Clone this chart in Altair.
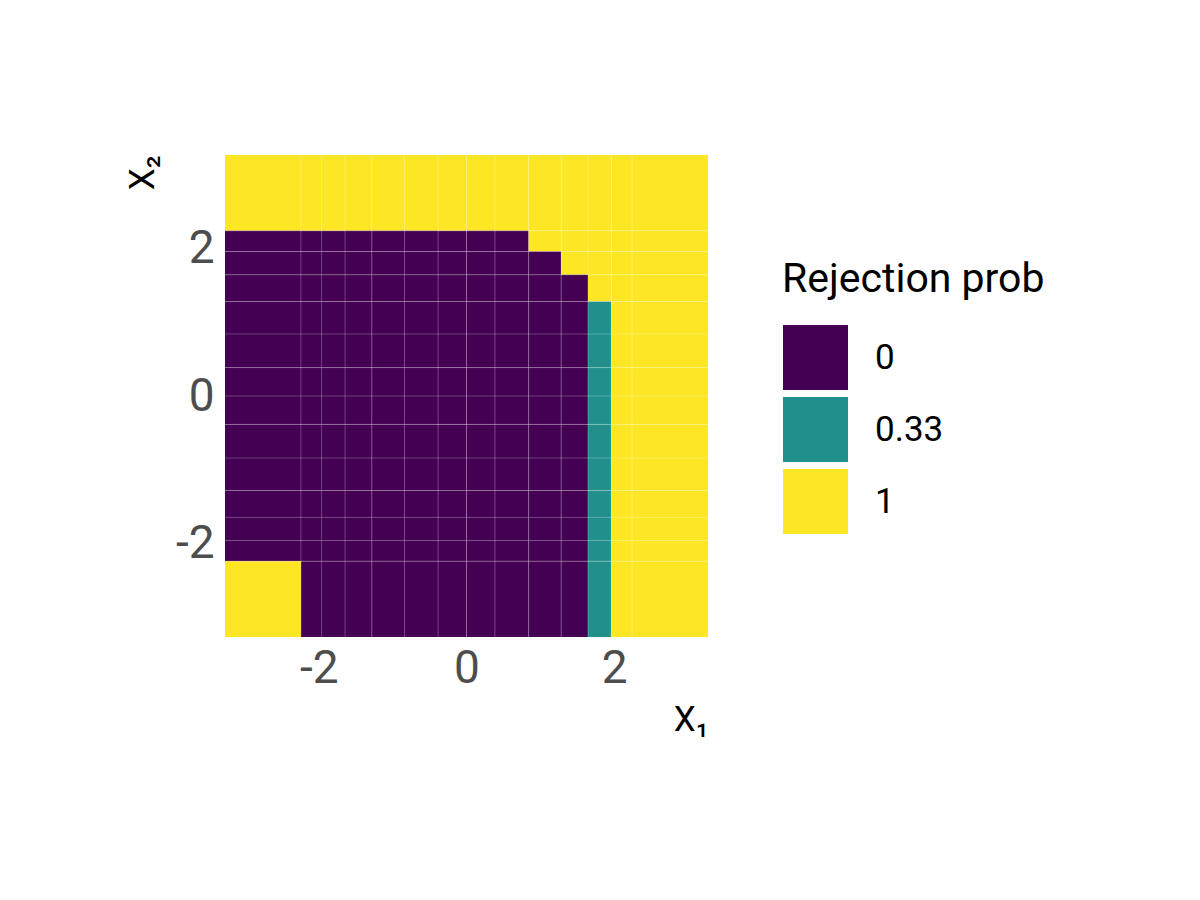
import altair as alt
import pandas as pd

# Cell boundaries (normal quantiles), outer edges at panel limits
edges = [-3.27, -2.2414, -1.96, -1.6449, -1.2816, -0.8416, -0.3853, 0.0,
         0.3853, 0.8416, 1.2816, 1.6449, 1.96, 2.2414, 3.27]

# Rejection probability per cell, rows from top (largest X2) to bottom
A, B, C = "0", "0.33", "1"
grid_top_to_bottom = [
    [C, C, C, C, C, C, C, C, C, C, C, C, C, C],
    [A, A, A, A, A, A, A, A, A, C, C, C, C, C],
    [A, A, A, A, A, A, A, A, A, A, C, C, C, C],
    [A, A, A, A, A, A, A, A, A, A, A, C, C, C],
    [A, A, A, A, A, A, A, A, A, A, A, B, C, C],
    [A, A, A, A, A, A, A, A, A, A, A, B, C, C],
    [A, A, A, A, A, A, A, A, A, A, A, B, C, C],
    [A, A, A, A, A, A, A, A, A, A, A, B, C, C],
    [A, A, A, A, A, A, A, A, A, A, A, B, C, C],
    [A, A, A, A, A, A, A, A, A, A, A, B, C, C],
    [A, A, A, A, A, A, A, A, A, A, A, B, C, C],
    [A, A, A, A, A, A, A, A, A, A, A, B, C, C],
    [A, A, A, A, A, A, A, A, A, A, A, B, C, C],
    [C, A, A, A, A, A, A, A, A, A, A, B, C, C],
]

levels = ["0", "0.33", "1"]
colors = ["#440154", "#21908C", "#FDE725"]

# Cell border lines (bright and faint)
bright_x = [-2.2414, -1.6449, -1.2816, -0.3853, 0.0, 0.3853, 0.8416, 1.2816, 1.6449, 1.96, 2.2414]
faint_x = [-1.96, -0.8416]
bright_y = [-2.2414, -1.2816, -0.8416, -0.3853, 0.0, 0.3853, 0.8416, 1.2816, 1.6449, 1.96, 2.2414]
faint_y = [-1.96, -1.6449]

tick_vals = [-2, 0, 2]

n = len(edges) - 1
rows = []
for r, row in enumerate(grid_top_to_bottom):
    j = n - 1 - r
    for i, v in enumerate(row):
        rows.append({"x": edges[i], "x2": edges[i + 1],
                     "y": edges[j], "y2": edges[j + 1], "prob": v})
cells = pd.DataFrame(rows)

W, H = 483, 482
FONT = "Roboto"
dom = [edges[0], edges[-1]]

xscale = alt.Scale(domain=dom, nice=False, zero=False)
yscale = alt.Scale(domain=dom, nice=False, zero=False)

x_axis = alt.Axis(title="X₁", values=tick_vals, labelExpr="'' + datum.value",
                  grid=False, domain=False, ticks=False,
                  labelFontSize=46, labelColor="#4D4D4D", labelFont=FONT,
                  labelPadding=9,
                  titleFontSize=35, titleFont=FONT, titleFontWeight="normal",
                  titleColor="black", titleX=W, titleY=93,
                  titleAlign="right", titleBaseline="alphabetic")
y_axis = alt.Axis(title="X₂", values=tick_vals, labelExpr="'' + datum.value",
                  grid=False, domain=False, ticks=False,
                  labelFontSize=46, labelColor="#4D4D4D", labelFont=FONT,
                  labelPadding=11,
                  titleFontSize=35, titleFont=FONT, titleFontWeight="normal",
                  titleColor="black", titleX=-72, titleY=0, titleAngle=270,
                  titleAlign="right", titleBaseline="alphabetic")

rect = alt.Chart(cells).mark_rect(strokeWidth=0).encode(
    x=alt.X("x:Q", scale=xscale, axis=x_axis, title="X₁"),
    x2="x2:Q",
    y=alt.Y("y:Q", scale=yscale, axis=y_axis, title="X₂"),
    y2="y2:Q",
    color=alt.Color("prob:N", scale=alt.Scale(domain=levels, range=colors),
                    legend=alt.Legend(title="Rejection prob", orient="none",
                                      legendX=557, legendY=105,
                                      symbolType="square", symbolSize=4356,
                                      symbolStrokeColor="white", symbolStrokeWidth=1,
                                      symbolOpacity=1,
                                      titleFontSize=41, titleFont=FONT,
                                      titleFontWeight="normal", titleColor="black",
                                      titlePadding=23, titleLimit=0,
                                      labelFontSize=35, labelFont=FONT, labelColor="black",
                                      labelOffset=26, rowPadding=1, padding=0)),
)

vx = pd.DataFrame({"x": bright_x})
vxf = pd.DataFrame({"x": faint_x})
hy = pd.DataFrame({"y": bright_y})
hyf = pd.DataFrame({"y": faint_y})

rule_x = alt.Chart(vx).mark_rule(color="white", opacity=0.3, strokeWidth=0.8).encode(
    x=alt.X("x:Q", scale=xscale, axis=x_axis, title="X₁"))
rule_xf = alt.Chart(vxf).mark_rule(color="white", opacity=0.12, strokeWidth=0.8).encode(
    x=alt.X("x:Q", scale=xscale, axis=x_axis, title="X₁"))
rule_y = alt.Chart(hy).mark_rule(color="white", opacity=0.3, strokeWidth=0.8).encode(
    y=alt.Y("y:Q", scale=yscale, axis=y_axis, title="X₂"))
rule_yf = alt.Chart(hyf).mark_rule(color="white", opacity=0.12, strokeWidth=0.8).encode(
    y=alt.Y("y:Q", scale=yscale, axis=y_axis, title="X₂"))

chart = alt.layer(rect, rule_x, rule_xf, rule_y, rule_yf).properties(
    width=W, height=H,
    autosize=alt.AutoSizeParams(type="none"),
    padding={"left": 217, "top": 147, "right": 470, "bottom": 240},
    background="white",
).configure_view(stroke=None)

chart.save("out.html", embed_options={"renderer": "svg", "actions": False})
